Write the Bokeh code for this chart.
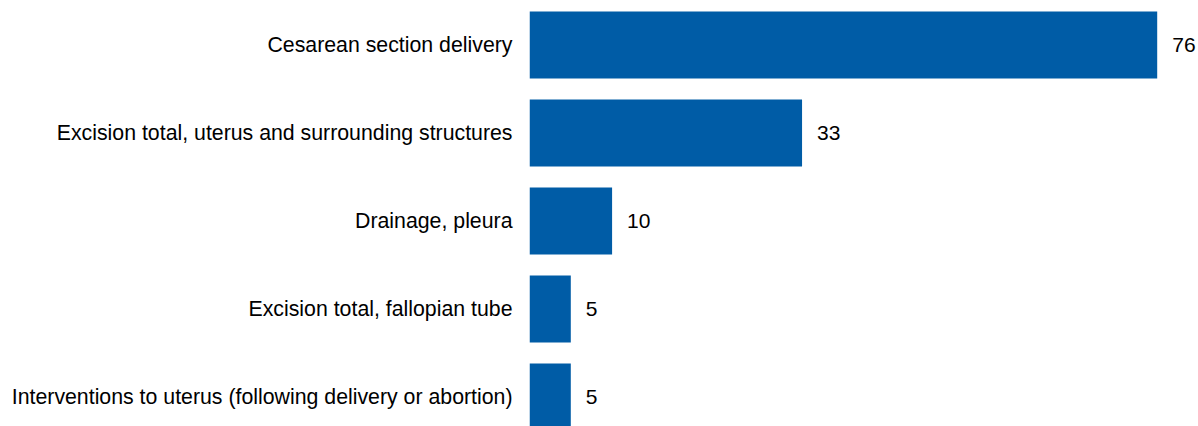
from bokeh.plotting import figure
from bokeh.models import Range1d, FixedTicker, ColumnDataSource
from bokeh.core.properties import value
from bokeh.embed import file_html
from bokeh.resources import INLINE

categories = [
    "Cesarean section delivery",
    "Excision total, uterus and surrounding structures",
    "Drainage, pleura",
    "Excision total, fallopian tube",
    "Interventions to uterus (following delivery or abortion)",
]
counts = [76, 33, 10, 5, 5]
positions = list(range(len(categories)))
value_labels = [str(c) for c in counts]

src = ColumnDataSource(dict(y=positions, x=counts, lab=value_labels))

p = figure(width=1198, height=426, output_backend="svg", toolbar_location=None,
           x_range=Range1d(0, 81), y_range=Range1d(4.335, -0.5057),
           min_border_left=529, min_border_right=0, min_border_top=0, min_border_bottom=0)

p.hbar(y="y", right="x", left=0, height=0.76, source=src, color="#005CA6", line_color=None)
p.text(x="x", y="y", text="lab", source=src, x_offset=15, text_baseline="middle",
       text_align="left", text_font=value("Liberation Sans"), text_font_size="21px",
       text_color="#000000")

p.xaxis.visible = False
ax = p.yaxis[0]
ax.ticker = FixedTicker(ticks=positions)
ax.major_label_overrides = {i: c for i, c in zip(positions, categories)}
ax.major_tick_line_color = None
ax.minor_tick_line_color = None
ax.axis_line_color = None
ax.major_tick_out = 0
ax.major_tick_in = 0
ax.major_label_standoff = 17
ax.major_label_text_font = "Liberation Sans"
ax.major_label_text_font_size = "21.3px"
ax.major_label_text_color = "#000000"
p.grid.visible = False
p.outline_line_color = None

open("out.html", "w").write(file_html(p, INLINE))
